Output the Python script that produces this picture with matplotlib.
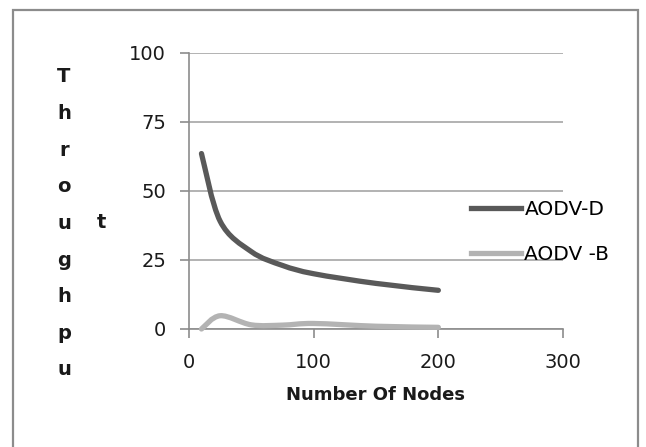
import numpy as np
import matplotlib
matplotlib.use("Agg")
import matplotlib.pyplot as plt
from matplotlib.path import Path
from matplotlib.patches import PathPatch, Rectangle
from matplotlib.lines import Line2D

# throughput vs number of nodes
nodes = [10, 25, 50, 75, 100, 150, 200]
aodv_d = [63.5, 39.0, 28.0, 23.0, 20.0, 16.5, 14.0]
aodv_b = [0.0, 4.8, 1.5, 1.4, 2.0, 1.0, 0.6]

x_ticks = [0, 100, 200, 300]
y_ticks = [0, 25, 50, 75, 100]
ylabel_letters = ["T", "h", "r", "o", "u", "g", "h", "p", "u"]

dark = "#595959"
light = "#b3b3b3"
axis_grey = "#8c8c8c"


def smooth_path(xs, ys):
    # excel-style smoothed line: cubic bezier through every point
    pts = np.column_stack([xs, ys]).astype(float)
    n = len(pts)
    verts = [pts[0]]
    codes = [Path.MOVETO]
    for i in range(n - 1):
        p0 = pts[max(i - 1, 0)]
        p1 = pts[i]
        p2 = pts[i + 1]
        p3 = pts[min(i + 2, n - 1)]
        c1 = p1 + (p2 - p0) / 6.0
        c2 = p2 - (p3 - p1) / 6.0
        verts += [c1, c2, p2]
        codes += [Path.CURVE4] * 3
    return Path(verts, codes)


W, H = 646, 447
fig = plt.figure(figsize=(W / 100, H / 100), dpi=100)

# outer chart border
fig.patches.append(Rectangle((13 / W, -0.1), (638 - 13) / W, 1.1 - 10 / H,
                             transform=fig.transFigure, fill=False,
                             edgecolor=axis_grey, linewidth=1.6))

ax = fig.add_axes([189 / W, 1 - 329 / H, (563 - 189) / W, (329 - 52.7) / H])
ax.set_xlim(0, 300)
ax.set_ylim(0, 100)
ax.set_xticks(x_ticks)
ax.set_yticks(y_ticks)

for s in ["top", "right"]:
    ax.spines[s].set_visible(False)
for s in ["left", "bottom"]:
    ax.spines[s].set_color(axis_grey)
    ax.spines[s].set_linewidth(1.2)

ax.yaxis.grid(True, color="#a6a6a6", linewidth=1.2)
ax.set_axisbelow(True)
ax.tick_params(axis="both", direction="out", length=6.5, width=1.2,
               color=axis_grey, labelsize=14, labelcolor="#1a1a1a")
ax.tick_params(axis="y", pad=10)
ax.tick_params(axis="x", pad=11)

ax.add_patch(PathPatch(smooth_path(nodes, aodv_d), fill=False,
                       edgecolor=dark, linewidth=3.8, capstyle="round",
                       clip_on=False, zorder=3))
ax.add_patch(PathPatch(smooth_path(nodes, aodv_b), fill=False,
                       edgecolor=light, linewidth=3.8, capstyle="round",
                       clip_on=False, zorder=3))

ax.set_xlabel("Number Of Nodes", fontsize=13, fontweight="bold", color="#1a1a1a")
ax.xaxis.set_label_coords(0.5, (329 - 395) / (329 - 52.7))
ax.xaxis.label.set_va("center")

# vertical wrapped axis title
for i, ch in enumerate(ylabel_letters):
    fig.text(64 / W, 1 - (77 + i * 36.6) / H, ch, fontsize=14,
             fontweight="bold", ha="center", va="center", color="#1a1a1a")
fig.text(101 / W, 1 - 223 / H, "t", fontsize=14, fontweight="bold",
         ha="center", va="center", color="#1a1a1a")

handles = [Line2D([], [], color=dark, linewidth=3.8),
           Line2D([], [], color=light, linewidth=3.8)]
ax.legend(handles, ["AODV-D", "AODV -B"], loc="center left",
          bbox_to_anchor=(471 / W, 1 - 232 / H), bbox_transform=fig.transFigure,
          frameon=False, fontsize=14.5, handlelength=2.5, handletextpad=0.15,
          labelspacing=1.25, borderpad=0, borderaxespad=0)

fig.savefig("out.png", dpi=100)
